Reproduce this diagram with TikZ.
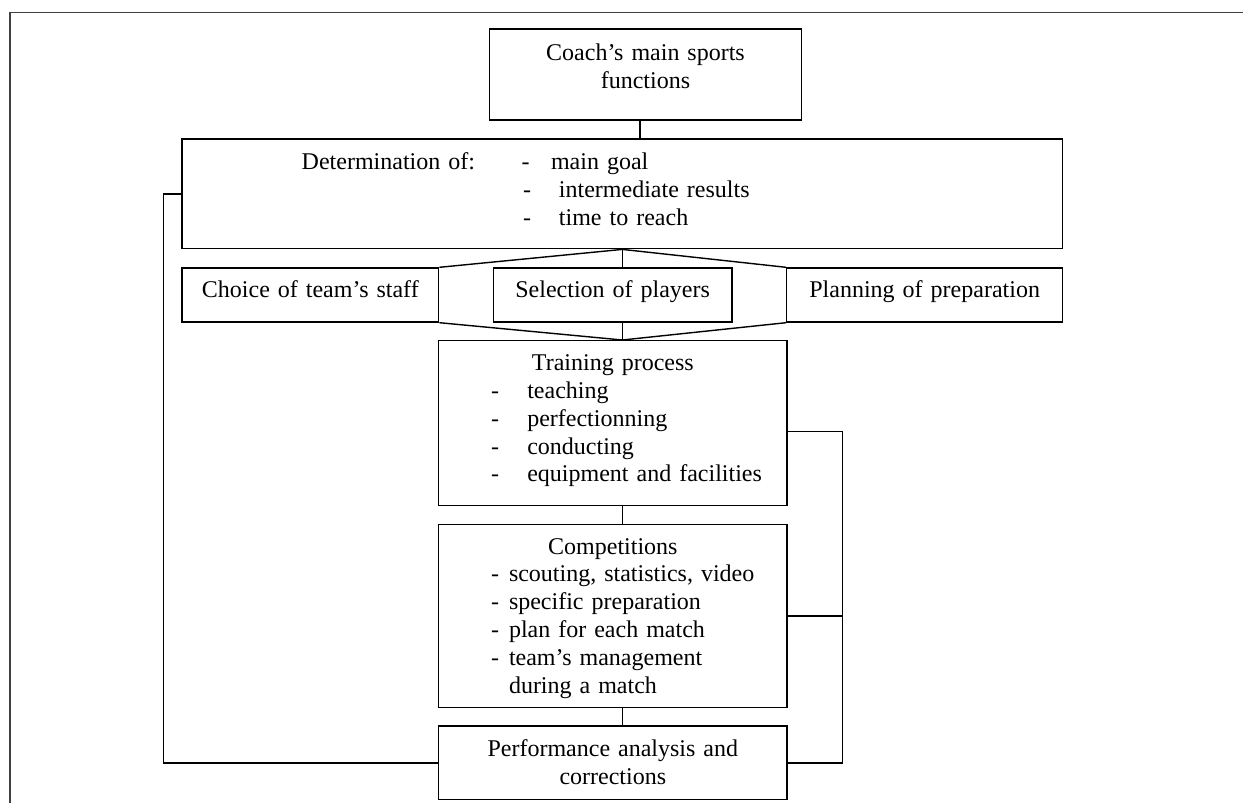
\documentclass[tikz,border=0pt]{standalone}
\usepackage{fontspec}
\setmainfont{Liberation Serif}

\begin{document}
\begin{tikzpicture}[x=0.5pt, y=-0.5pt,
    block/.style={draw, line width=0.7pt, anchor=north, inner xsep=0pt, inner ysep=0pt, align=center, font=\fontsize{12}{13.9}\selectfont},
    link/.style={line width=0.7pt}
]
    \useasboundingbox (0,0) rectangle (1243,803);
    % Frame
    \draw[line width=0.8pt, black!75] (9.7,810) -- (9.7,12.3) -- (1250,12.3);

    % Boxes
    \node[block, text width=156.2pt, text height=15.85pt, text depth=29.65pt] (coach) at (645.5,28.3) {Coach's main sports\\functions};
    \node[block, align=left, text width=440.35pt, text height=15.35pt, text depth=39.5pt] (det) at (622.35,138.3)
        {\hspace*{59.85pt}\makebox[110pt][l]{Determination of:}\makebox[14.65pt][l]{-}main goal\\
         \hspace*{170.5pt}\makebox[18pt][l]{-}intermediate results\\
         \hspace*{170.5pt}\makebox[18pt][l]{-}time to reach};
    \node[block, text width=128.35pt, text height=14.7pt, text depth=12.3pt] (staff) at (310.35,267.3) {Choice of team's staff};
    \node[block, text width=119.35pt, text height=14.7pt, text depth=12.3pt] (players) at (612.65,267.3) {Selection of players};
    \node[block, text width=138pt, text height=14.7pt, text depth=12.3pt] (planning) at (924.7,267.3) {Planning of preparation};
    \node[block, align=left, text width=174.15pt, text height=15pt, text depth=67.35pt] (training) at (612.85,340)
        {\makebox[174.15pt]{Training process}\\
         \hspace*{26.15pt}\makebox[18.15pt][l]{-}teaching\\
         \hspace*{26.15pt}\makebox[18.15pt][l]{-}perfectionning\\
         \hspace*{26.15pt}\makebox[18.15pt][l]{-}conducting\\
         \hspace*{26.15pt}\makebox[18.15pt][l]{-}equipment and facilities};
    \node[block, align=left, text width=174.15pt, text height=14.8pt, text depth=76.85pt] (comp) at (612.85,523.7)
        {\makebox[174.15pt]{Competitions}\\
         \hspace*{26.15pt}\makebox[9pt][l]{-}scouting, statistics, video\\
         \hspace*{26.15pt}\makebox[9pt][l]{-}specific preparation\\
         \hspace*{26.15pt}\makebox[9pt][l]{-}plan for each match\\
         \hspace*{26.15pt}\makebox[9pt][l]{-}team's management\\
         \hspace*{35.15pt}during a match};
    \node[block, text width=174.15pt, text height=15.35pt, text depth=21.5pt] (perf) at (612.85,725.3) {Performance analysis and\\corrections};

    % Connectors
    \draw[link] ([xshift=-2.75pt]coach.south) -- ([xshift=-2.75pt]coach.south |- det.north);
    \draw[link] (det.south) -- (det.south |- players.north);
    \draw[link] (det.south) -- (staff.north east);
    \draw[link] (det.south) -- (planning.north west);
    \coordinate (join) at (det.south |- training.north);
    \draw[link] (det.south |- players.south) -- (join);
    \draw[link] (staff.south east) -- (join);
    \draw[link] (planning.south west) -- (join);
    \draw[link] (join |- training.south) -- (join |- comp.north);
    \draw[link] (join |- comp.south) -- (join |- perf.north);

    % Feedback loops
    \coordinate (backR) at (842.3,431.7);
    \coordinate (backL) at (163.3,762);
    \draw[link] (training.east |- backR) -- (backR) |- (perf.east);
    \draw[link] (comp.east) -- (comp.east -| backR);
    \draw[link] (perf.west) -- (perf.west -| backL) |- (det.west);
\end{tikzpicture}
\end{document}
